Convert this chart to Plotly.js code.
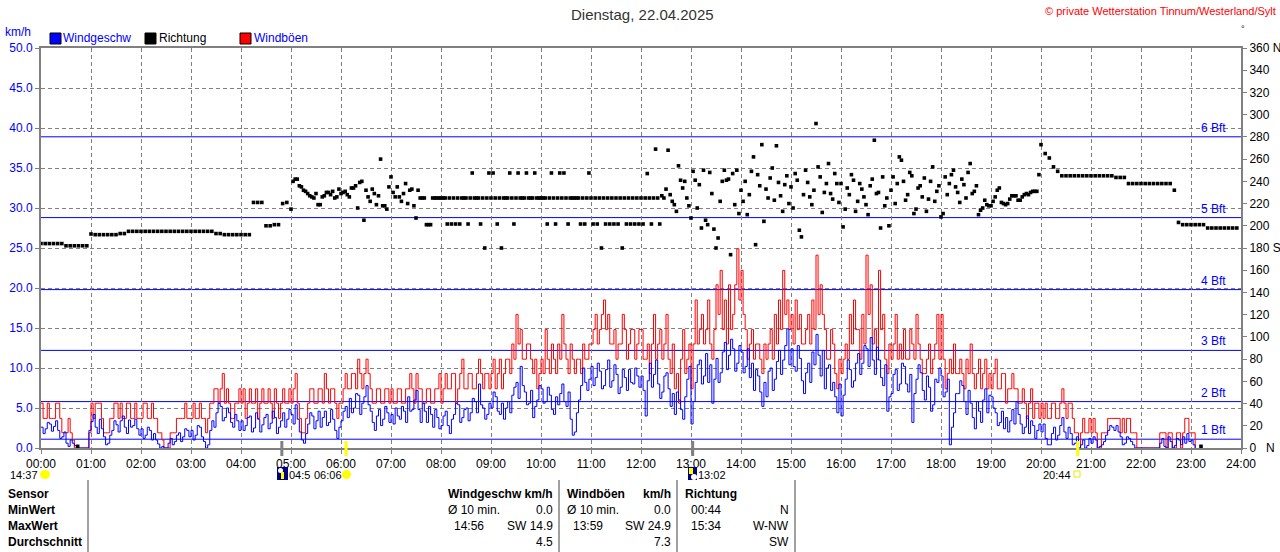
<!DOCTYPE html>
<html>
<head>
<meta charset="utf-8">
<script src="https://cdn.plot.ly/plotly-3.0.1.min.js"></script>
<style>
html,body{margin:0;padding:0;background:#fff;}
#chart{width:1280px;height:552px;}
</style>
</head>
<body>
<div id="chart"></div>
<script>
// wind speed (km/h), one value every 5 minutes from 00:00
var windKmh = [
 2.6,2.4,3.0,2.7,2.2,1.4,0.6,1.0,0.3,0,0,0,
 3.3,2.6,3.6,1.4,0.6,2.2,2.9,3.4,2.6,3.5,2.8,2.4,
 2.4,1.6,2.2,1.8,0.5,0.2,0,1.2,0.8,1.9,1.4,2.2,
 2.2,1.6,2.6,0.8,0.4,3.4,4.4,5.2,3.8,4.4,2.6,3.4,
 3.4,2.8,4.0,2.5,3.6,2.9,4.2,3.1,3.8,2.6,4.4,3.6,
 4.2,5.4,2.0,0.6,3.0,4.0,3.4,2.6,4.6,3.2,3.6,1.2,
 3.4,5.2,6.2,5.0,6.6,5.6,7.8,4.6,2.2,4.8,3.6,4.4,
 4.2,5.0,3.6,4.6,6.4,4.8,7.2,3.2,4.6,5.2,2.6,3.8,
 2.8,4.6,1.8,4.2,5.4,3.8,5.0,4.4,5.8,8.0,5.0,4.2,
 5.0,6.4,4.2,3.6,5.8,6.6,8.2,10.2,7.0,5.6,3.8,6.0,
 7.4,5.8,6.6,4.2,5.4,8.0,5.2,3.6,2.0,6.0,10.0,7.2,
 10.2,8.8,9.6,7.8,11.0,8.4,9.2,7.6,8.8,9.8,8.0,9.0,
 9.0,4.0,10.6,9.2,8.0,7.0,9.4,5.2,4.2,6.0,3.6,8.6,
 3.0,8.2,11.0,9.0,8.2,5.6,11.2,9.4,13.2,11.6,12.4,10.6,
 12.0,10.2,8.8,7.2,9.0,5.2,6.4,10.0,8.6,12.2,11.0,14.9,
 12.4,9.6,11.2,6.8,10.6,12.0,14.2,9.0,7.4,10.4,8.2,4.4,
 4.0,8.6,9.8,8.4,11.8,10.6,12.4,13.8,9.2,11.0,7.8,4.6,
 6.8,9.8,8.0,10.2,7.0,3.2,8.6,9.4,6.0,7.6,5.4,8.2,
 9.0,7.0,0.4,4.4,6.8,7.8,4.2,5.6,2.4,4.6,6.0,4.4,
 6.4,4.4,3.2,2.4,2.0,4.8,5.8,3.0,2.6,1.8,2.8,2.2,
 2.0,1.2,0.4,2.6,1.6,3.8,1.2,1.8,0.6,0,1.0,0.3,
 0.6,1.0,0.2,0.8,2.2,2.6,2.8,1.4,0.6,1.2,0.4,0,
 0,0,0,0,0,1.2,0,0.8,0.3,1.0,1.4,1.8,
 1.0,0
];
// wind speed readings in between, from 00:02:30 every 5 minutes
var windKmhMid = [
 1.8,3.2,2.1,3.4,1.2,2.0,0.2,0.6,0,0,0,2.2,
 4.2,1.8,2.4,0.4,1.6,3.4,2.0,4.0,1.8,2.6,3.6,1.6,
 1.2,2.6,1.0,1.0,0,0,0.6,0.4,1.6,0.8,2.4,1.4,
 1.0,2.8,1.4,0,2.2,2.6,5.6,3.4,5.0,3.2,4.2,2.2,
 2.2,3.8,2.0,4.4,2.0,3.8,2.4,4.6,1.8,3.4,2.6,4.8,
 3.0,3.6,1.0,1.8,4.4,2.4,4.6,3.8,2.8,4.8,2.2,2.6,
 4.6,3.8,4.4,6.8,4.2,6.4,5.4,3.2,4.0,2.8,5.2,3.2,
 3.0,4.0,5.2,3.2,4.6,6.0,4.8,5.6,3.2,4.2,4.8,2.4,
 4.0,2.8,3.6,5.6,3.2,4.8,3.4,6.2,4.4,5.4,3.6,5.6,
 7.0,4.6,5.6,5.0,4.4,7.6,6.2,7.8,5.4,7.2,5.2,7.8,
 5.6,7.6,4.8,6.4,6.8,5.8,7.0,1.6,4.4,7.8,8.2,8.6,
 7.8,10.6,7.4,9.8,7.6,10.4,6.8,9.8,7.2,8.2,10.0,7.6,
 7.2,8.4,7.6,11.0,6.2,9.0,7.4,6.8,7.0,4.8,6.4,10.2,
 5.8,10.4,8.0,11.8,10.4,8.6,8.2,12.0,9.8,13.6,9.6,12.8,
 9.4,12.4,10.6,9.8,7.0,8.2,9.6,7.2,10.8,9.2,12.8,10.4,
 10.2,12.8,8.4,9.4,8.2,10.4,11.6,12.2,10.0,7.2,6.4,8.0,
 6.6,11.0,7.6,10.6,9.2,12.8,10.2,11.0,12.6,8.8,10.4,6.4,
 9.2,7.2,10.6,8.0,9.2,6.8,10.4,7.2,9.0,4.6,8.6,10.0,
 6.4,8.6,2.6,6.8,8.4,5.8,7.2,3.8,5.8,3.2,7.4,6.6,
 5.0,2.8,4.6,3.8,3.4,3.0,4.2,1.8,4.0,3.4,1.2,3.0,
 3.0,0.4,1.8,1.0,2.8,2.0,2.6,0.4,1.4,0.4,0,1.2,
 1.4,0,0.4,1.6,2.8,2.2,2.0,0.4,1.4,0.8,0,0,
 0,0,0,0,0.6,0.2,1.4,0,1.2,0.4,0.6,0.8,
 0.4
];
// gusts (km/h), same 5 minute steps
var gustKmh = [
 5.6,3.7,3.7,3.7,5.6,1.9,1.9,1.9,0,0,0,0,
 5.6,5.6,5.6,1.9,1.9,3.7,5.6,5.6,3.7,5.6,3.7,3.7,
 3.7,5.6,3.7,3.7,1.9,1.0,0,1.9,1.9,3.7,3.7,3.7,
 3.7,3.7,5.6,3.7,3.7,5.6,7.4,7.4,5.6,5.6,3.7,5.6,
 5.6,3.7,7.4,5.6,3.7,7.4,5.6,5.6,7.4,3.7,7.4,5.6,
 5.6,9.3,3.7,1.9,5.6,7.4,5.6,7.4,9.3,5.6,7.4,3.7,
 5.6,9.3,7.4,9.3,11.1,7.4,11.1,7.4,5.6,7.4,5.6,7.4,
 7.4,5.6,7.4,5.6,7.4,7.4,9.3,7.4,5.6,7.4,5.6,7.4,
 5.6,9.3,7.4,9.3,7.4,11.1,7.4,9.3,7.4,11.1,7.4,9.3,
 9.3,7.4,11.1,9.3,11.1,13.0,16.7,14.8,11.1,13.0,9.3,7.4,
 11.1,14.8,9.3,11.1,13.0,16.7,11.1,13.0,9.3,11.1,13.0,11.1,
 13.0,16.7,14.8,18.5,16.7,13.0,11.1,13.0,14.8,13.0,14.8,13.0,
 14.8,11.1,9.3,16.7,13.0,11.1,16.7,9.3,7.4,5.6,14.8,11.1,
 7.4,18.5,14.8,13.0,18.5,11.1,20.4,22.2,18.5,20.4,16.7,24.9,
 22.2,14.8,13.0,11.1,13.0,9.3,11.1,14.8,16.7,18.5,22.2,18.5,
 16.7,18.5,16.7,13.0,16.7,18.5,24.1,20.4,14.8,11.1,13.0,7.4,
 9.3,13.0,16.7,18.5,14.8,16.7,24.1,20.4,14.8,22.2,16.7,9.3,
 11.1,16.7,13.0,14.8,11.1,13.0,16.7,11.1,9.3,13.0,11.1,16.7,
 16.7,7.4,11.1,13.0,9.3,9.3,11.1,13.0,7.4,11.1,9.3,7.4,
 7.4,11.1,7.4,9.3,7.4,9.3,7.4,5.6,5.6,5.6,3.7,5.6,
 5.6,5.6,3.7,5.6,3.7,7.4,3.7,5.6,1.9,0,3.7,1.9,
 1.9,1.9,0,1.9,3.7,3.7,3.7,1.9,1.9,3.7,1.9,0,
 0,0,0,0,0,1.9,0,1.9,0,1.9,1.9,3.7,
 1.9,0
];
// gust readings in between, from 00:02:30 every 5 minutes
var gustKmhMid = [
 3.7,5.6,3.7,5.6,3.7,1.9,3.7,1.0,0,0,0,1.9,
 3.7,5.6,3.7,1.9,3.7,5.6,3.7,3.7,5.6,3.7,5.6,3.7,
 5.6,3.7,5.6,3.7,1.9,0,0,1.9,3.7,3.7,5.6,3.7,
 5.6,3.7,3.7,1.9,5.6,7.4,5.6,9.3,7.4,3.7,5.6,7.4,
 7.4,5.6,5.6,7.4,5.6,5.6,7.4,3.7,5.6,5.6,5.6,7.4,
 7.4,5.6,1.9,3.7,7.4,5.6,7.4,5.6,7.4,7.4,5.6,5.6,
 7.4,7.4,9.3,7.4,9.3,9.3,9.3,5.6,7.4,5.6,7.4,5.6,
 5.6,7.4,5.6,7.4,9.3,5.6,7.4,5.6,7.4,5.6,7.4,9.3,
 7.4,7.4,9.3,5.6,9.3,7.4,9.3,7.4,9.3,9.3,9.3,7.4,
 11.1,9.3,7.4,11.1,9.3,11.1,13.0,11.1,13.0,11.1,11.1,9.3,
 9.3,11.1,13.0,9.3,11.1,13.0,9.3,11.1,11.1,9.3,11.1,13.0,
 14.8,13.0,16.7,14.8,13.0,14.8,13.0,16.7,11.1,14.8,11.1,14.8,
 11.1,13.0,13.0,11.1,14.8,13.0,11.1,13.0,9.3,11.1,9.3,13.0,
 13.0,13.0,16.7,14.8,13.0,14.8,16.7,14.8,13.0,14.8,20.4,18.5,
 16.7,11.1,14.8,13.0,11.1,13.0,13.0,11.1,13.0,14.8,16.7,14.8,
 13.0,14.8,13.0,14.8,13.0,14.8,16.7,16.7,11.1,14.8,9.3,11.1,
 11.1,11.1,13.0,14.8,11.1,13.0,16.7,13.0,11.1,14.8,11.1,13.0,
 13.0,11.1,11.1,11.1,14.8,11.1,13.0,9.3,11.1,9.3,13.0,11.1,
 11.1,9.3,9.3,9.3,11.1,7.4,9.3,9.3,9.3,7.4,11.1,9.3,
 9.3,7.4,9.3,5.6,7.4,7.4,5.6,7.4,3.7,7.4,5.6,3.7,
 3.7,3.7,5.6,3.7,5.6,5.6,5.6,3.7,1.9,1.9,1.9,3.7,
 3.7,0,1.9,1.9,3.7,3.7,3.7,3.7,3.7,1.9,1.9,0,
 0,0,0,0,1.9,1.9,1.9,0,1.9,0,3.7,1.9,
 1.9
];
// wind direction (degrees), every 5 minutes from 00:00 to 23:55
var dirDeg = [
 184,184,184,184,184,184,182,182,182,182,182,182,
 192.6,192,192,192,192,192,192,193,193,195,195,195,
 195,195,195,195,195,195,195,195,195,195,195,195,
 195,195,195,195,195,195,193,193,192,192,192,192,
 192,192,192,221,221,221,200,200,201,201,220,221,
 215,242,236,232,229,226,229,219,227,230,231,226,
 229,231,226,234,216,240,232,222,229,227,218,215,
 244,226,226,229,220,233,207,225,225,201,225,225,
 225,225,225,225,225,225,225,225,225,225,225,225,
 225,225,225,225,225,225,225,225,225,225,225,225,
 225,225,225,225,225,225,225,225,225,225,225,225,
 225,225,225,225,225,225,225,225,225,225,225,225,
 225,225,225,225,225,227,233,228,219,254,234,225,
 207,241,237,250,201,229,180,222,250,242,247,250,
 232,240,228,262,246,273,233,243,223,239,213,245,
 235,247,196,228,239,219,292,244,230,256,224,238,
 238,215,228,241,222,233,219,236,277,230,244,225,
 232,220,262,240,228,245,215,236,243,224,253,231,
 208,244,238,250,230,242,225,256,231,210,216,219,
 218,226,234,220,220,227,227,223,228,228,231,231,
 273,265,261,253,249,245,245,245,245,245,245,245,
 245,245,245,245,245,245,243.5,243.5,243.5,238,238,238,
 238,238,238,238,238,238,238,238,232,203,201,201,
 201,201,201,201,198,198,198,198,198,198,198,198
];
// extra direction readings in between, every 5 minutes from 05:02:30
var dirDegMidStart = "05:02:30";
var dirDegMid = [
 240,242,235,231,227,225,219,226,230,228,225,233,
 230,228,234,236,239,205,226,233,219,260,218,235,
 230,235,222,238,232,218,232,225,201,201,225,225,
 225,201.6,201.6,201.6,201.6,225,201.6,247.5,225,201.6,180,247.5,
 247.5,201.6,180,225,247.5,201.6,247.5,225,247.5,225,247.5,225,
 225,201.6,247.5,201.6,247.5,247.5,201.6,225,225,201.6,201.6,247.5,
 201.6,201.6,180,201.6,201.6,201.6,201.6,180,201.6,201.6,201.6,201.6,
 201.6,247,201.6,269,201.6,225,268,222,213,241,240,218,
 249,216,198,205,248,197,189,240,241,174,219,211,
 222,210,249,183,236,204,225,252,272,227,237,220,
 216,241,190,250,226,232,253,212,238,229,247,221,
 199,234,246,213,238,226,210,242,229,198,218,200,
 244,238,259,223,248,211,234,226,213,240,222,236,
 211,228,246,235,221,237,248,229,236,214,223,218,
 222,232,221,219,224,227,223,226,229,230,231,246
];
// single readings straight from north
var northTimes = ["00:44", "23:12"];

var bftKmh = [1.1, 5.8, 12.2, 19.8, 28.8, 38.9];
var bftLabels = ["1 Bft", "2 Bft", "3 Bft", "4 Bft", "5 Bft", "6 Bft"];
var hourLabels = ["00:00","01:00","02:00","03:00","04:00","05:00","06:00","07:00","08:00",
 "09:00","10:00","11:00","12:00","13:00","14:00","15:00","16:00","17:00","18:00",
 "19:00","20:00","21:00","22:00","23:00","24:00"];
var speedTicks = [0, 5, 10, 15, 20, 25, 30, 35, 40, 45, 50];
var dirTicks = [0,20,40,60,80,100,120,140,160,180,200,220,240,260,280,300,320,340,360];
var dirTickText = ["0\u00a0\u00a0\u00a0N","20","40","60","80","100","120","140","160","180 S",
 "200","220","240","260","280","300","320","340","360 N"];

// sun / moon times under the axis
var astroBarTimes = ["04:49", "06:06", "13:02", "20:44"];
var astroLabels = ["14:37", "04:5", "06:06", "13:02", "20:44"];

// table under the chart
var rowLabels = ["Sensor", "MinWert", "MaxWert", "Durchschnitt"];
var statHeads = ["Windgeschw km/h", "Windböen", "Richtung"];
var statUnits = ["", "km/h", ""];
var statMinTime = ["Ø 10 min.", "Ø 10 min.", "00:44"];
var statMinVal = ["0.0", "0.0", "N"];
var statMaxTime = ["14:56", "13:59", "15:34"];
var statMaxVal = ["SW 14.9", "SW 24.9", "W-NW"];
var statAvg = ["4.5", "7.3", "SW"];

var FONT = "Liberation Sans, Arial, sans-serif";
function hm(s){ var p = s.split(":"); return +p[0] + p[1]/60 + (p[2] ? p[2]/3600 : 0); }
// pixel position in the 1280x552 picture -> paper coordinates
function px(X){ return (X - 41) / 1200; }
function py(Y){ return (448 - Y) / 400; }

// merge the on-the-5-minute and in-between readings into one series
function merge(base, mid){
  var x = [], y = [];
  base.forEach(function(v, i){
    x.push(i * 5 / 60); y.push(v);
    if (i < mid.length){ x.push((i * 5 + 2.5) / 60); y.push(mid[i]); }
  });
  return {x: x, y: y};
}
var wind = merge(windKmh, windKmhMid);
var gust = merge(gustKmh, gustKmhMid);

var tDir = dirDeg.map(function(v, i){ return i * 5 / 60; });
var midStart = hm(dirDegMidStart);
var tDirMid = dirDegMid.map(function(v, i){ return midStart + i * 5 / 60; });

var dirMarker = {symbol: "square", size: 3.6, color: "#000000", line: {width: 0}};

var traces = [
  {x: gust.x, y: gust.y, type: "scatter", mode: "lines", line: {color: "#ff0000", width: 1, shape: "hv"}, hoverinfo: "skip"},
  {x: wind.x, y: wind.y, type: "scatter", mode: "lines", line: {color: "#0000ff", width: 1, shape: "hv"}, hoverinfo: "skip"},
  {x: tDir, y: dirDeg, type: "scatter", mode: "markers", marker: dirMarker, yaxis: "y2", hoverinfo: "skip"},
  {x: tDirMid, y: dirDegMid, type: "scatter", mode: "markers", marker: dirMarker, yaxis: "y2", hoverinfo: "skip"},
  {x: northTimes.map(hm), y: northTimes.map(function(){ return 1.5; }), type: "scatter", mode: "markers",
   marker: dirMarker, yaxis: "y2", hoverinfo: "skip", cliponaxis: false}
];

var shapes = [];
var annotations = [];

function txt(X, Y, s, anchor, size, color){
  annotations.push({xref: "paper", yref: "paper", x: px(X), y: py(Y), text: s, showarrow: false,
    xanchor: anchor, yanchor: "middle", borderpad: 0, borderwidth: 0,
    font: {family: FONT, size: size, color: color}});
}
function rect(X0, Y0, X1, Y1, fill, line){
  shapes.push({type: "rect", xref: "paper", yref: "paper", x0: px(X0), x1: px(X1), y0: py(Y0), y1: py(Y1),
    fillcolor: fill, line: {color: line || fill, width: line ? 1 : 0}, layer: "above"});
}
function circle(X0, Y0, X1, Y1, fill){
  shapes.push({type: "circle", xref: "paper", yref: "paper", x0: px(X0), x1: px(X1), y0: py(Y0), y1: py(Y1),
    fillcolor: fill, line: {width: 0}, layer: "above"});
}

// Beaufort limits
bftKmh.forEach(function(v, i){
  shapes.push({type: "line", xref: "paper", x0: 0, x1: 1, yref: "y", y0: v, y1: v,
    line: {color: "#0000ff", width: 1}, layer: "between"});
  annotations.push({xref: "paper", yref: "y", x: px(1227), y: v, yshift: 9, text: bftLabels[i],
    showarrow: false, xanchor: "right", yanchor: "middle", borderpad: 0,
    font: {family: FONT, size: 12, color: "#0000ff"}});
});

// headings
txt(642, 15, "Dienstag, 22.04.2025", "center", 15, "#333333");
txt(1276, 11, "© private Wetterstation Tinnum/Westerland/Sylt", "right", 11, "#ff0000");
txt(5, 32, "km/h", "left", 12, "#0000ff");
txt(1241, 29, "°", "left", 9, "#000000");

// legend
rect(50, 33, 61, 44, "#0000ff", "#000000");
txt(63, 38, "Windgeschw", "left", 12, "#0000ff");
rect(145, 33, 156, 44, "#000000", "#000000");
txt(159, 38, "Richtung", "left", 12, "#000000");
rect(240, 33, 251, 44, "#ff0000", "#000000");
txt(254, 38, "Windböen", "left", 12, "#0000ff");

// sun and moon marks
var barColors = ["#808080", "#ffff00", "#808080", "#ffff00"];
astroBarTimes.forEach(function(t, i){
  var X = 41 + hm(t) * 50;
  rect(X - 1.5, 441, X + 1.5, 456, barColors[i]);
});
var astroY = 475;
txt(10, astroY, astroLabels[0], "left", 11, "#000000");
circle(40, 470, 50, 479, "#ffff00");
rect(277, 467, 288, 480, "#000080");
circle(278, 468, 283, 473, "#ffffff");
rect(281, 472, 284, 479, "#ffff00");
txt(289, astroY, astroLabels[1], "left", 11, "#000000");
txt(314, astroY, astroLabels[2], "left", 11, "#000000");
circle(342, 470, 351, 479, "#ffff00");
rect(688, 467, 697, 480, "#000080");
rect(689, 468, 693, 474, "#ffff00");
circle(691, 474, 697, 480, "#ffffff");
txt(698, astroY, astroLabels[3], "left", 11, "#000000");
txt(1043, astroY, astroLabels[4], "left", 11, "#000000");
shapes.push({type: "rect", xref: "paper", yref: "paper", x0: px(1074), x1: px(1080), y0: py(471), y1: py(477),
  line: {color: "#e8e800", width: 1}, layer: "above"});

// statistics table
[88, 559, 677, 795].forEach(function(X){
  shapes.push({type: "line", xref: "paper", yref: "paper", x0: px(X), x1: px(X), y0: py(480), y1: py(552),
    line: {color: "#a0a0a0", width: 2}, layer: "above"});
});
var rowY = [494, 510, 526, 542];
rowLabels.forEach(function(s, i){ txt(8, rowY[i], "<b>" + s + "</b>", "left", 12, "#000000"); });
var colLeft = [448, 567, 685];
var colRight = [553, 671, 789];
var colTime = [[448, 454], [567, 573], [691, 691]];
statHeads.forEach(function(s, c){
  txt(colLeft[c], rowY[0], "<b>" + s + "</b>", "left", 12, "#000000");
  if (statUnits[c]) txt(colRight[c], rowY[0], "<b>" + statUnits[c] + "</b>", "right", 12, "#000000");
  txt(colTime[c][0], rowY[1], statMinTime[c], "left", 12, "#000000");
  txt(colRight[c], rowY[1], statMinVal[c], "right", 12, "#000000");
  txt(colTime[c][1], rowY[2], statMaxTime[c], "left", 12, "#000000");
  txt(colRight[c], rowY[2], statMaxVal[c], "right", 12, "#000000");
  txt(colRight[c], rowY[3], statAvg[c], "right", 12, "#000000");
});

var layout = {
  width: 1280, height: 552,
  margin: {l: 41, r: 39, t: 48, b: 104, pad: 0},
  paper_bgcolor: "#ffffff", plot_bgcolor: "#ffffff",
  showlegend: false,
  font: {family: FONT, size: 12, color: "#000000"},
  xaxis: {
    range: [0, 24], tickvals: hourLabels.map(function(s){ return hm(s); }), ticktext: hourLabels,
    showgrid: true, gridcolor: "#808080", griddash: "4px,3px", gridwidth: 1,
    showline: true, linecolor: "#808080", linewidth: 2, mirror: true,
    ticks: "outside", ticklen: 4, tickcolor: "#808080", zeroline: false,
    tickfont: {family: FONT, size: 12, color: "#000000"}, fixedrange: true
  },
  yaxis: {
    range: [0, 50], tickvals: speedTicks, tickformat: ".1f",
    showgrid: true, gridcolor: "#808080", griddash: "4px,3px", gridwidth: 1,
    showline: true, linecolor: "#808080", linewidth: 2, mirror: true,
    ticks: "outside", ticklen: 4, tickcolor: "#808080", zeroline: false,
    tickfont: {family: FONT, size: 12, color: "#0000ff"}, fixedrange: true
  },
  yaxis2: {
    overlaying: "y", side: "right", range: [0, 360], tickvals: dirTicks, ticktext: dirTickText,
    showgrid: false, showline: true, linecolor: "#808080", linewidth: 2,
    ticks: "outside", ticklen: 4, tickcolor: "#808080", zeroline: false,
    tickfont: {family: FONT, size: 12, color: "#000000"}, fixedrange: true
  },
  shapes: shapes,
  annotations: annotations
};

Plotly.newPlot("chart", traces, layout, {staticPlot: true, displayModeBar: false});
</script>
</body>
</html>
